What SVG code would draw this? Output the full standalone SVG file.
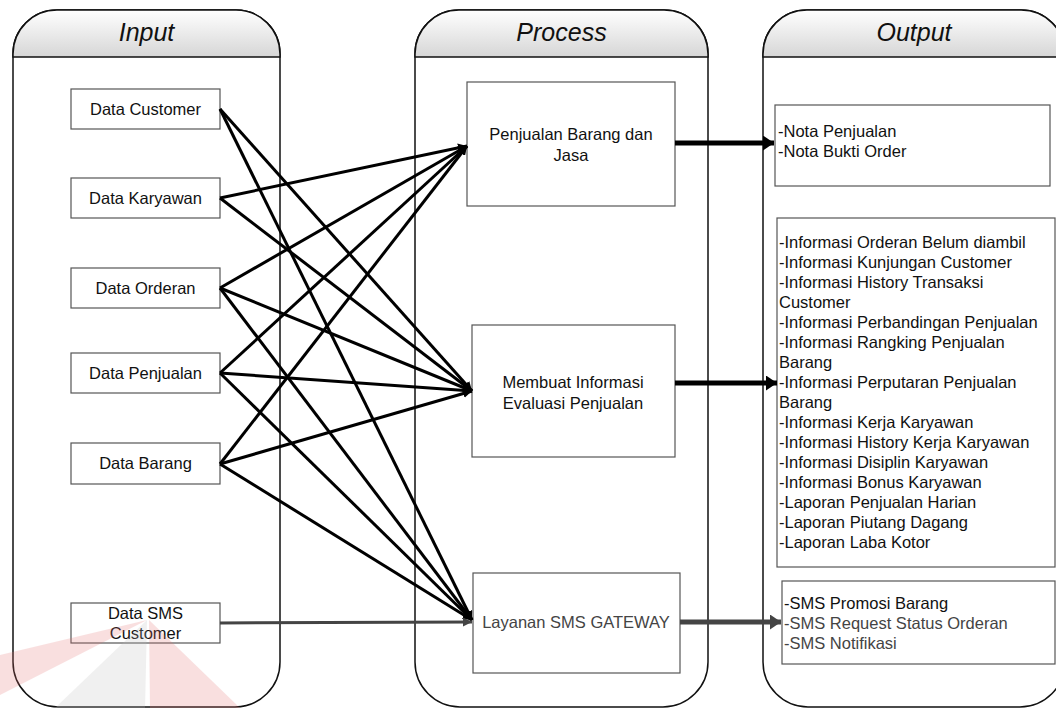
<svg xmlns="http://www.w3.org/2000/svg" width="1056" height="708" viewBox="0 0 1056 708">
<defs>
<linearGradient id="hdr" x1="0" y1="0" x2="0" y2="1">
<stop offset="0" stop-color="#ffffff"/>
<stop offset="1" stop-color="#d6d6d6"/>
</linearGradient>
<marker id="ah" markerUnits="userSpaceOnUse" markerWidth="10" markerHeight="9" refX="9" refY="4.5" orient="auto">
<path d="M0,0 L9,4.5 L0,9 Z" fill="#000"/>
</marker>
<marker id="ahg" markerUnits="userSpaceOnUse" markerWidth="10" markerHeight="9" refX="9" refY="4.5" orient="auto">
<path d="M0,0 L9,4.5 L0,9 Z" fill="#444"/>
</marker>
<marker id="big" markerUnits="userSpaceOnUse" markerWidth="12" markerHeight="15" refX="11" refY="7.5" orient="auto">
<path d="M0,0 L11,7.5 L0,15 Z" fill="#000"/>
</marker>
<marker id="bigg" markerUnits="userSpaceOnUse" markerWidth="12" markerHeight="15" refX="11" refY="7.5" orient="auto">
<path d="M0,0 L11,7.5 L0,15 Z" fill="#444"/>
</marker>
</defs>
<style>
.lane{fill:#fff;stroke:#111;stroke-width:1.5}
.hd{fill:url(#hdr);stroke:#111;stroke-width:1.5}
.ht{font-family:"Liberation Sans",Arial,sans-serif;font-style:italic;font-size:25px;fill:#111;text-anchor:middle}
.box{fill:#fff;stroke:#555;stroke-width:1.2}
.t{font-family:"Liberation Sans",Arial,sans-serif;font-size:16.5px;fill:#111}
.c{text-anchor:middle}
.g{fill:#444}
.cn{stroke:#000;stroke-width:3;fill:none;marker-end:url(#ah)}
.cg{stroke:#444;stroke-width:3;fill:none;marker-end:url(#ahg)}
.ob{stroke:#000;stroke-width:5;fill:none;marker-end:url(#big)}
.obg{stroke:#444;stroke-width:5;fill:none;marker-end:url(#bigg)}
</style>
<g id="lane-input">
<path class="lane" d="M13,54 A44,44 0 0 1 57,10 L236,10 A44,44 0 0 1 280,54 L280,662 A45,45 0 0 1 235,707 L58,707 A45,45 0 0 1 13,662 Z"/>
<path class="hd" d="M13,57 L13,54 A44,44 0 0 1 57,10 L236,10 A44,44 0 0 1 280,54 L280,57 Z"/>
<text class="ht" x="146.5" y="41">Input</text>
</g>
<g id="lane-process">
<path class="lane" d="M415,54 A44,44 0 0 1 459,10 L664,10 A44,44 0 0 1 708,54 L708,662 A45,45 0 0 1 663,707 L460,707 A45,45 0 0 1 415,662 Z"/>
<path class="hd" d="M415,57 L415,54 A44,44 0 0 1 459,10 L664,10 A44,44 0 0 1 708,54 L708,57 Z"/>
<text class="ht" x="561.5" y="41">Process</text>
</g>
<g id="lane-output">
<path class="lane" d="M763,54 A44,44 0 0 1 807,10 L1021,10 A44,44 0 0 1 1065,54 L1065,662 A45,45 0 0 1 1020,707 L808,707 A45,45 0 0 1 763,662 Z"/>
<path class="hd" d="M763,57 L763,54 A44,44 0 0 1 807,10 L1021,10 A44,44 0 0 1 1065,54 L1065,57 Z"/>
<text class="ht" x="914" y="41">Output</text>
</g>
<g id="in-customer"><rect class="box" x="71" y="89" width="149" height="40"/><text class="t c" x="145.5" y="115">Data Customer</text></g>
<g id="in-karyawan"><rect class="box" x="71" y="178" width="149" height="40"/><text class="t c" x="145.5" y="204">Data Karyawan</text></g>
<g id="in-orderan"><rect class="box" x="71" y="268" width="149" height="40"/><text class="t c" x="145.5" y="294">Data Orderan</text></g>
<g id="in-penjualan"><rect class="box" x="71" y="353" width="149" height="40"/><text class="t c" x="145.5" y="379">Data Penjualan</text></g>
<g id="in-barang"><rect class="box" x="71" y="443" width="149" height="41"/><text class="t c" x="145.5" y="469">Data Barang</text></g>
<g id="in-sms"><rect class="box" x="71" y="603" width="149" height="40"/><text class="t c" x="145.5" y="619">Data SMS</text><text class="t c" x="145.5" y="639">Customer</text></g>
<g id="p-penjualan"><rect class="box" x="467" y="82" width="208" height="124"/><text class="t c" x="571" y="140">Penjualan Barang dan</text><text class="t c" x="571" y="161">Jasa</text></g>
<g id="p-evaluasi"><rect class="box" x="472" y="325" width="203" height="132"/><text class="t c" x="573" y="388">Membuat Informasi</text><text class="t c" x="573" y="409">Evaluasi Penjualan</text></g>
<g id="p-sms"><rect class="box" x="473" y="573" width="207" height="100"/><text class="t c g" x="576" y="628">Layanan SMS GATEWAY</text></g>
<g id="o-nota"><rect class="box" x="775" y="105" width="275" height="81"/><text class="t" x="778" y="137">-Nota Penjualan</text><text class="t" x="778" y="157">-Nota Bukti Order</text></g>
<g id="o-info"><rect class="box" x="777" y="218" width="278" height="349"/>
<text class="t" x="779" y="248">-Informasi Orderan Belum diambil</text>
<text class="t" x="779" y="268">-Informasi Kunjungan Customer</text>
<text class="t" x="779" y="288">-Informasi History Transaksi</text>
<text class="t" x="779" y="308">Customer</text>
<text class="t" x="779" y="328">-Informasi Perbandingan Penjualan</text>
<text class="t" x="779" y="348">-Informasi Rangking Penjualan</text>
<text class="t" x="779" y="368">Barang</text>
<text class="t" x="779" y="388">-Informasi Perputaran Penjualan</text>
<text class="t" x="779" y="408">Barang</text>
<text class="t" x="779" y="428">-Informasi Kerja Karyawan</text>
<text class="t" x="779" y="448">-Informasi History Kerja Karyawan</text>
<text class="t" x="779" y="468">-Informasi Disiplin Karyawan</text>
<text class="t" x="779" y="488">-Informasi Bonus Karyawan</text>
<text class="t" x="779" y="508">-Laporan Penjualan Harian</text>
<text class="t" x="779" y="528">-Laporan Piutang Dagang</text>
<text class="t" x="779" y="548">-Laporan Laba Kotor</text>
</g>
<g id="o-sms"><rect class="box" x="782" y="581" width="273" height="83"/>
<text class="t" x="784" y="609">-SMS Promosi Barang</text>
<text class="t g" x="784" y="629">-SMS Request Status Orderan</text>
<text class="t g" x="784" y="649">-SMS Notifikasi</text>
</g>
<g id="connectors">
<line class="cn" x1="220" y1="198" x2="467" y2="146"/>
<line class="cn" x1="220" y1="288" x2="467" y2="146"/>
<line class="cn" x1="220" y1="373" x2="467" y2="146"/>
<line class="cn" x1="220" y1="464" x2="467" y2="146"/>
<line class="cn" x1="220" y1="109" x2="472" y2="391"/>
<line class="cn" x1="220" y1="198" x2="472" y2="391"/>
<line class="cn" x1="220" y1="288" x2="472" y2="391"/>
<line class="cn" x1="220" y1="373" x2="472" y2="391"/>
<line class="cn" x1="220" y1="464" x2="472" y2="391"/>
<line class="cn" x1="220" y1="109" x2="472" y2="620"/>
<line class="cn" x1="220" y1="288" x2="472" y2="620"/>
<line class="cn" x1="220" y1="373" x2="472" y2="620"/>
<line class="cn" x1="220" y1="464" x2="472" y2="620"/>
<line class="cg" x1="220" y1="623" x2="472" y2="622"/>
<line class="ob" x1="675" y1="143" x2="774" y2="143"/>
<line class="ob" x1="675" y1="383" x2="777" y2="383"/>
<line class="obg" x1="680" y1="622" x2="781" y2="622"/>
</g>
<g id="watermark" opacity="0.22">
<path d="M147,620 L0,655 L0,695 Z" fill="#e57373"/>
<path d="M147,620 L55,708 L145,708 Z" fill="#bdbdbd"/>
<path d="M149,620 L150,708 L240,708 Z" fill="#e57373"/>
</g>
</svg>
